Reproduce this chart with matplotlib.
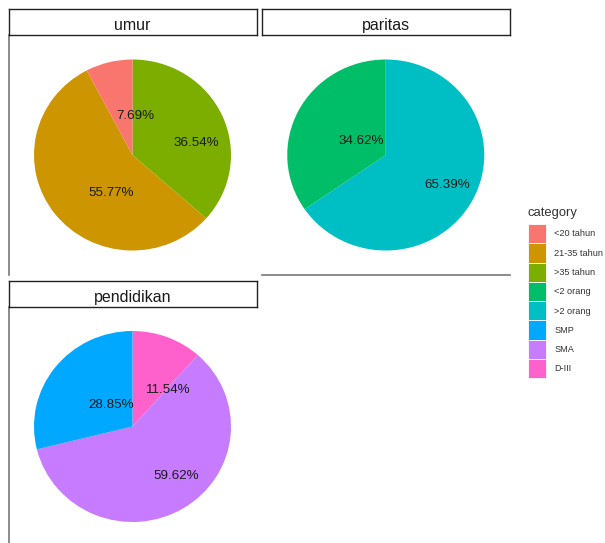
import numpy as np
import matplotlib.pyplot as plt
from matplotlib.patches import Patch

plt.rcParams['font.family'] = ['Liberation Sans', 'DejaVu Sans']

# data (percent of respondents)
cats_umur = ['<20 tahun', '21-35 tahun', '>35 tahun']
pct_umur = [7.69, 55.77, 36.54]
cats_paritas = ['<2 orang', '>2 orang']
pct_paritas = [34.62, 65.39]
cats_pend = ['SMP', 'SMA', 'D-III']
pct_pend = [28.85, 59.62, 11.54]

# where the percentage labels sit: position along the circle (percent, clockwise
# from 12 o'clock) and distance from centre (fraction of radius)
lab_pos_umur = [1.2, 58.0, 21.9]
lab_r_umur = [0.41, 0.45, 0.66]
lab_pos_paritas = [83.3, 32.3]
lab_r_paritas = [0.29, 0.70]
lab_pos_pend = [87.9, 38.7, 12.2]
lab_r_pend = [0.31, 0.68, 0.53]

category = cats_umur + cats_paritas + cats_pend
palette = ['#F8766D', '#CD9600', '#7CAE00', '#00BE67',
           '#00BFC4', '#00A9FF', '#C77CFF', '#FF61CC']
col = dict(zip(category, palette))

W, H = 605, 543
fig = plt.figure(figsize=(W / 100, H / 100), dpi=100)


def px_axes(x0, y0, x1, y1, z=0):
    # pixel box (from top-left) -> figure axes
    return fig.add_axes([x0 / W, 1 - y1 / H, (x1 - x0) / W, (y1 - y0) / H], zorder=z)


RX, RY = 98.5, 95.5  # pie radius in pixels


def facet(title, cats, pct, lab_pos, lab_r, x0, x1, ys, ye, left=False, bottom=False):
    # panel with the pie
    ax = px_axes(x0, ys + 26, x1, ye)
    ax.patch.set_visible(False)
    ax.pie(pct[::-1], colors=[col[c] for c in cats[::-1]], startangle=90,
           counterclock=False, wedgeprops=dict(linewidth=0))
    ax.set_aspect('auto')
    pw, ph = x1 - x0, ye - ys - 26
    ax.set_xlim(-pw / 2 / RX, pw / 2 / RX)
    ax.set_ylim(-ph / 2 / RY, ph / 2 / RY)
    ax.set_frame_on(True)
    for k in ['top', 'right', 'left', 'bottom']:
        ax.spines[k].set_visible(False)
    for k, on in [('left', left), ('bottom', bottom)]:
        if on:
            ax.spines[k].set_visible(True)
            ax.spines[k].set_color('#777777')
            ax.spines[k].set_linewidth(1.2)
    ax.set_xticks([])
    ax.set_yticks([])

    for v, p, r in zip(pct, lab_pos, lab_r):
        th = np.deg2rad(p / 100 * 360)
        ax.text(r * np.sin(th), r * np.cos(th), f'{v:.2f}%', ha='center',
                va='center', fontsize=9.6, color='#1a1a1a')

    # strip on top
    sax = px_axes(x0, ys, x1, ys + 26, z=2)
    sax.set_xticks([])
    sax.set_yticks([])
    for s in sax.spines.values():
        s.set_color('#222222')
        s.set_linewidth(1.0)
    sax.text(0.5, 5 / 26, title, ha='center', va='baseline', fontsize=11.5,
             color='#1a1a1a', transform=sax.transAxes)


facet('umur', cats_umur, pct_umur, lab_pos_umur, lab_r_umur, 8.5, 256.5, 9, 275, left=True)
facet('paritas', cats_paritas, pct_paritas, lab_pos_paritas, lab_r_paritas, 262, 509.5, 9, 275,
      bottom=True)
facet('pendidikan', cats_pend, pct_pend, lab_pos_pend, lab_r_pend, 8.5, 256.5, 281, 546, left=True)

# legend: title as its own text, keys below it
fig.text(528 / W, 1 - 213 / H, 'category', ha='left', va='center', fontsize=9.4,
         color='#333333')
handles = [Patch(facecolor=col[c], edgecolor='white', linewidth=0.6, label=c) for c in category]
leg = fig.legend(handles=handles, loc='upper left',
                 bbox_to_anchor=(528 / W, 1 - 224 / H), frameon=False,
                 fontsize=6.6, handlelength=1.96, handleheight=2.86, labelspacing=0,
                 handletextpad=0.93, borderpad=0, borderaxespad=0)
for t in leg.get_texts():
    t.set_color('#333333')

fig.savefig('out.png', dpi=100)
